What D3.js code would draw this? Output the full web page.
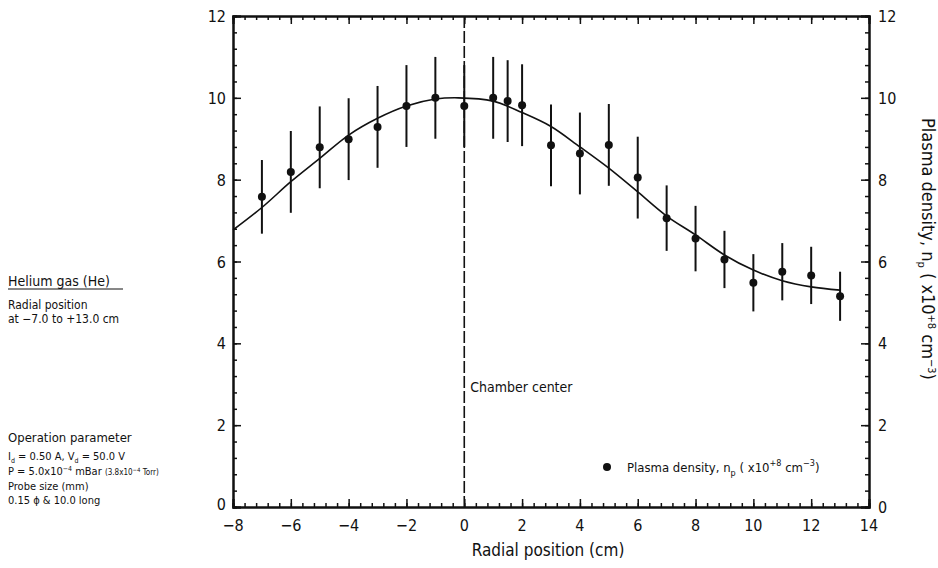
<!DOCTYPE html>
<html><head><meta charset="utf-8">
<script src="https://cdn.jsdelivr.net/npm/d3@7"></script>
<style>
body{margin:0;background:#fff}
text{font-family:"DejaVu Sans Condensed","DejaVu Sans",sans-serif;font-stretch:condensed;fill:#111}
</style></head><body>
<svg id="c" width="938" height="568"></svg>
<script>
// Data
const radialPos = [-7,-6,-5,-4,-3,-2,-1,0,1,1.5,2,3,4,5,6,7,8,9,10,11,12,13];
const density   = [7.58,8.19,8.79,8.99,9.29,9.80,10.0,9.80,10.0,9.92,9.82,8.84,8.64,8.85,8.05,7.06,6.56,6.05,5.48,5.75,5.66,5.15];
const errBar    = [0.9,1.0,1.0,1.0,1.0,1.0,1.0,1.0,1.0,1.0,1.0,1.0,1.0,1.0,1.0,0.8,0.8,0.7,0.7,0.7,0.7,0.6];
const fitX = [-8,-7,-6,-5,-4,-3,-2,-1,-0.2,1,2,3,4,5,6,7,8,9,10,11,12,13];
const fitY = [6.77,7.32,7.95,8.52,9.09,9.50,9.80,9.97,10.0,9.92,9.64,9.30,8.80,8.28,7.70,7.11,6.65,6.16,5.79,5.53,5.38,5.30];
const xTicks = [-8,-6,-4,-2,0,2,4,6,8,10,12,14];
const yTicks = [0,2,4,6,8,10,12];

const svg = d3.select("#c");
const x = d3.scaleLinear().domain([-8,14]).range([233,869]);
const y = d3.scaleLinear().domain([0,12]).range([507,16]);
const minorX = d3.range(-8,14.001,0.4).map(v=>+v.toFixed(2));
const minorY = d3.range(0,12.001,0.4).map(v=>+v.toFixed(2));

function styleAxis(g){
  g.select(".domain").attr("stroke","#111").attr("stroke-width",2);
  g.selectAll(".tick line").attr("stroke","#111").attr("stroke-width",1.5);
}
// minor ticks
svg.append("g").attr("transform",`translate(0,${y(0)})`).call(d3.axisTop(x).tickValues(minorX).tickSize(4).tickFormat("")).call(styleAxis);
svg.append("g").attr("transform",`translate(0,${y(12)})`).call(d3.axisBottom(x).tickValues(minorX).tickSize(4).tickFormat("")).call(styleAxis);
svg.append("g").attr("transform",`translate(${x(-8)},0)`).call(d3.axisRight(y).tickValues(minorY).tickSize(4).tickFormat("")).call(styleAxis);
svg.append("g").attr("transform",`translate(${x(14)},0)`).call(d3.axisLeft(y).tickValues(minorY).tickSize(4).tickFormat("")).call(styleAxis);
// major ticks
svg.append("g").attr("transform",`translate(0,${y(0)})`).call(d3.axisTop(x).tickValues(xTicks).tickSize(8).tickFormat("")).call(styleAxis);
svg.append("g").attr("transform",`translate(0,${y(12)})`).call(d3.axisBottom(x).tickValues(xTicks).tickSize(8).tickFormat("")).call(styleAxis);
svg.append("g").attr("transform",`translate(${x(-8)},0)`).call(d3.axisRight(y).tickValues(yTicks).tickSize(8).tickFormat("")).call(styleAxis);
svg.append("g").attr("transform",`translate(${x(14)},0)`).call(d3.axisLeft(y).tickValues(yTicks).tickSize(8).tickFormat("")).call(styleAxis);
// labels
svg.append("g").selectAll("text").data(xTicks).join("text")
  .attr("x",d=>x(d)).attr("y",531).attr("text-anchor","middle").style("font-size","16px")
  .text(d=>d<0?"\u2212"+Math.abs(d):d);
svg.append("g").selectAll("text").data(yTicks).join("text")
  .attr("x",x(-8)-7).attr("y",d=>y(d)+(d===0?3:6)).attr("text-anchor","end").style("font-size","16px").text(d=>d);
svg.append("g").selectAll("text").data(yTicks).join("text")
  .attr("x",x(14)+9).attr("y",d=>y(d)+6).attr("text-anchor","start").style("font-size","16px").text(d=>d);

// chamber center dashed line
svg.append("line").attr("x1",x(0)).attr("x2",x(0)).attr("y1",y(12)).attr("y2",y(0))
  .attr("stroke","#111").attr("stroke-width",1.6).attr("stroke-dasharray","12,3");
svg.append("text").attr("x",x(0)+6).attr("y",392).style("font-size","14px").text("Chamber  center");

// fit curve
svg.append("path").datum(fitX.map((d,i)=>[d,fitY[i]]))
  .attr("d",d3.line().x(d=>x(d[0])).y(d=>y(d[1])).curve(d3.curveCatmullRom))
  .attr("fill","none").attr("stroke","#111").attr("stroke-width",1.6);

// error bars and points
const pts = radialPos.map((d,i)=>({x:d,y:density[i],e:errBar[i]}));
svg.append("g").selectAll("line").data(pts).join("line")
  .attr("x1",d=>x(d.x)).attr("x2",d=>x(d.x)).attr("y1",d=>y(d.y+d.e)).attr("y2",d=>y(d.y-d.e))
  .attr("stroke","#111").attr("stroke-width",2);
svg.append("g").selectAll("circle").data(pts).join("circle")
  .attr("cx",d=>x(d.x)).attr("cy",d=>y(d.y)).attr("r",4).attr("fill","#111");

// legend
svg.append("circle").attr("cx",607).attr("cy",467).attr("r",4).attr("fill","#111");
const lg = svg.append("text").attr("x",627).attr("y",472).style("font-size","13px");
lg.append("tspan").text("Plasma density, n");
lg.append("tspan").attr("dy",4).style("font-size","9px").text("p");
lg.append("tspan").attr("dy",-4).text(" ( x10");
lg.append("tspan").attr("dy",-6).style("font-size","9px").text("+8");
lg.append("tspan").attr("dy",6).text(" cm");
lg.append("tspan").attr("dy",-6).style("font-size","9px").text("\u22123");
lg.append("tspan").attr("dy",6).text(")");

// axis titles
svg.append("text").attr("x",548).attr("y",556).attr("text-anchor","middle").style("font-size","17px").text("Radial position (cm)");
const rt = svg.append("text").attr("transform","translate(922,249) rotate(90)").attr("text-anchor","middle").style("font-size","18px");
rt.append("tspan").text("Plasma density, n");
rt.append("tspan").attr("dy",4).style("font-size","11px").text("p");
rt.append("tspan").attr("dy",-4).text(" ( x10");
rt.append("tspan").attr("dy",-6).style("font-size","11px").text("+8");
rt.append("tspan").attr("dy",6).text(" cm");
rt.append("tspan").attr("dy",-6).style("font-size","11px").text("\u22123");
rt.append("tspan").attr("dy",6).text(")");

// left annotations
const ann = svg.append("g");
ann.append("text").attr("x",8).attr("y",286).style("font-size","14px").text("Helium gas (He)");
ann.append("line").attr("x1",8).attr("x2",123).attr("y1",289).attr("y2",289).attr("stroke","#111").attr("stroke-width",1);
ann.append("text").attr("x",8).attr("y",309).style("font-size","12px").text("Radial position");
ann.append("text").attr("x",8).attr("y",323).style("font-size","12px").text("at \u22127.0 to +13.0 cm");
ann.append("text").attr("x",8).attr("y",442).style("font-size","13px").text("Operation parameter");
const t1 = ann.append("text").attr("x",8).attr("y",460).style("font-size","11px");
t1.append("tspan").text("I");
t1.append("tspan").attr("dy",3).style("font-size","7px").text("d");
t1.append("tspan").attr("dy",-3).text(" = 0.50 A,  V");
t1.append("tspan").attr("dy",3).style("font-size","7px").text("d");
t1.append("tspan").attr("dy",-3).text(" = 50.0 V");
const t2 = ann.append("text").attr("x",8).attr("y",475).style("font-size","11px");
t2.append("tspan").text("P = 5.0x10");
t2.append("tspan").attr("dy",-4).style("font-size","7px").text("\u22124");
t2.append("tspan").attr("dy",4).text(" mBar ");
t2.append("tspan").style("font-size","8px").text("(3.8x10");
t2.append("tspan").attr("dy",-3).style("font-size","6px").text("\u22124");
t2.append("tspan").attr("dy",3).style("font-size","8px").text(" Torr)");
ann.append("text").attr("x",8).attr("y",490).style("font-size","11px").text("Probe size (mm)");
ann.append("text").attr("x",8).attr("y",504).style("font-size","11px").text("0.15 \u03d5  & 10.0 long");
</script></body></html>
